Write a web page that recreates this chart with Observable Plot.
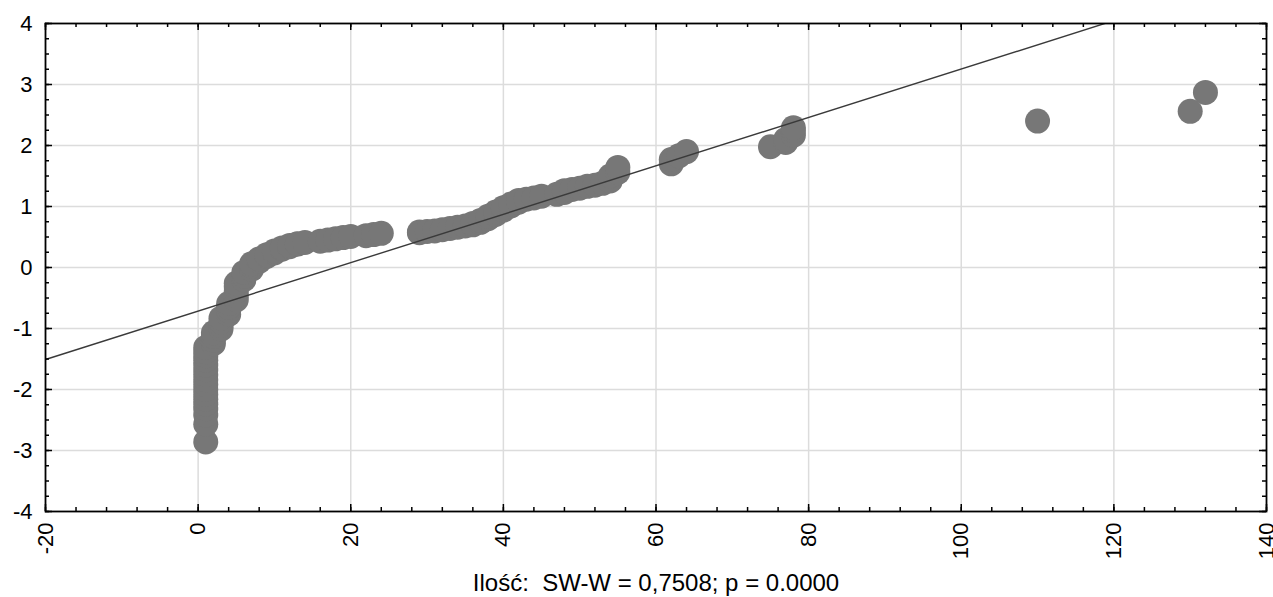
<!DOCTYPE html>
<html>
<head>
<meta charset="utf-8">
<script src="https://cdn.jsdelivr.net/npm/d3@7"></script>
<script src="https://cdn.jsdelivr.net/npm/@observablehq/plot@0.6"></script>
<style>
  html, body { margin: 0; padding: 0; background: #fff; }
  #chart svg { display: block; overflow: visible; }
</style>
</head>
<body>
<div id="chart"></div>
<script>
const obsValues = [
  1,1,1,1,1,1,1,1,1,1,1,1,1,1,1,1,1,
  2,2,2,2,
  3,3,3,3,
  4,4,4,4,
  5,5,5,5,5,
  6,6,6,
  7,7,7,
  8,8,
  9,9,
  10,10,
  11,11,
  12,12,
  13,13,
  14,16,17,18,19,20,22,23,24,
  29,29,30,31,32,33,34,35,36,36,37,37,38,38,39,39,40,40,41,41,42,42,
  43,44,45,47,48,48,49,50,51,52,53,54,54,55,55,
  62,62,63,64,
  75,77,77,78,78,78,
  110,130,132
];
const expNormal = [
  -2.86,-2.57,-2.42,-2.32,-2.24,-2.16,-2.08,-2.00,-1.92,-1.84,-1.76,-1.68,-1.60,-1.52,-1.45,-1.38,-1.31,
  -1.25,-1.19,-1.13,-1.07,
  -1.01,-0.95,-0.89,-0.83,
  -0.77,-0.71,-0.65,-0.59,
  -0.53,-0.46,-0.39,-0.32,-0.26,
  -0.20,-0.14,-0.08,
  -0.03,0.02,0.06,
  0.10,0.14,
  0.18,0.21,
  0.24,0.27,
  0.30,0.32,
  0.34,0.36,
  0.38,0.39,
  0.41,0.43,0.45,0.47,0.49,0.51,0.52,0.54,0.56,
  0.57,0.58,0.59,0.60,0.62,0.64,0.66,0.68,0.70,0.72,0.74,0.77,0.80,0.84,0.87,0.91,0.94,0.98,1.01,1.04,1.07,1.10,
  1.12,1.14,1.17,1.20,1.23,1.26,1.28,1.30,1.33,1.35,1.38,1.42,1.50,1.56,1.64,
  1.70,1.77,1.83,1.90,
  1.98,2.05,2.10,2.17,2.24,2.29,
  2.40,2.56,2.87
];
// Fitted normal line parameters (mean, sd)
const fitMean = 18.0;
const fitSd = 25.2;

const xMajor = [-20, 0, 20, 40, 60, 80, 100, 120, 140];
const yMajor = [-4, -3, -2, -1, 0, 1, 2, 3, 4];
const xMinor = d3.range(-20, 141, 4);
const yMinor = d3.range(-4, 4.001, 0.25);
const xLabels = ["-20", "0", "20", "40", "60", "80", "100", "120", "140"];
const yLabels = ["-4", "-3", "-2", "-1", "0", "1", "2", "3", "4"];
const xTitle = "Ilość:\u00a0 SW-W = 0,7508; p = 0.0000";

const points = obsValues.map((v, i) => ({x: v, y: expNormal[i]}));
const xDom = [xMajor[0], xMajor[xMajor.length - 1]];
const yDom = [yMajor[0], yMajor[yMajor.length - 1]];

const W = 1273, H = 597;
const mL = 45, mR = 7, mT = 23, mB = 86;
const iw = W - mL - mR, ih = H - mT - mB;
const minorLen = 4, majorLen = 7;

const chart = Plot.plot({
  width: W, height: H,
  marginLeft: mL, marginRight: mR, marginTop: mT, marginBottom: mB,
  style: {fontFamily: "'Liberation Sans', Arial, sans-serif", background: "#fff", color: "#000", overflow: "visible"},
  x: {domain: xDom, ticks: xMajor},
  y: {domain: yDom, ticks: yMajor},
  marks: [
    Plot.ruleX(xMajor.slice(1, -1), {y1: yDom[1], y2: yDom[0], stroke: "#dcdcdc", strokeWidth: 1.5}),
    Plot.ruleY(yMajor.slice(1, -1), {x1: xDom[0], x2: xDom[1], stroke: "#dcdcdc", strokeWidth: 1.5}),
    Plot.dot(points, {x: "x", y: "y", r: 12.5, fill: "#777777", stroke: "none"}),
    Plot.line(xDom, {x: d => d, y: d => (d - fitMean) / fitSd, stroke: "#3a3a3a", strokeWidth: 1.4, clip: true}),
    // inward ticks: bottom, top
    Plot.ruleX(xMinor, {y1: yDom[1], y2: yDom[0], insetTop: ih - minorLen, stroke: "#000", strokeWidth: 1.5}),
    Plot.ruleX(xMinor, {y1: yDom[1], y2: yDom[0], insetBottom: ih - minorLen, stroke: "#000", strokeWidth: 1.5}),
    Plot.ruleX(xMajor, {y1: yDom[1], y2: yDom[0], insetTop: ih - majorLen, stroke: "#000", strokeWidth: 1.5}),
    Plot.ruleX(xMajor, {y1: yDom[1], y2: yDom[0], insetBottom: ih - majorLen, stroke: "#000", strokeWidth: 1.5}),
    // inward ticks: left, right
    Plot.ruleY(yMinor, {x1: xDom[0], x2: xDom[1], insetRight: iw - minorLen, stroke: "#000", strokeWidth: 1.5}),
    Plot.ruleY(yMinor, {x1: xDom[0], x2: xDom[1], insetLeft: iw - minorLen, stroke: "#000", strokeWidth: 1.5}),
    Plot.ruleY(yMajor, {x1: xDom[0], x2: xDom[1], insetRight: iw - majorLen, stroke: "#000", strokeWidth: 1.5}),
    Plot.ruleY(yMajor, {x1: xDom[0], x2: xDom[1], insetLeft: iw - majorLen, stroke: "#000", strokeWidth: 1.5}),
    Plot.frame({stroke: "#000", strokeWidth: 1.8}),
    Plot.axisX(xMajor, {tickSize: 0, tickPadding: 11, tickRotate: -90, fontSize: 22, tickFormat: (d) => xLabels[xMajor.indexOf(d)], label: null}),
    Plot.axisY(yMajor, {tickSize: 0, tickPadding: 13, fontSize: 22, tickFormat: (d) => yLabels[yMajor.indexOf(d)], label: null}),
    Plot.text([xTitle], {frameAnchor: "bottom", dy: 79, fontSize: 24, fill: "#000", textAnchor: "middle"})
  ]
});
document.getElementById("chart").appendChild(chart);
</script>
</body>
</html>
